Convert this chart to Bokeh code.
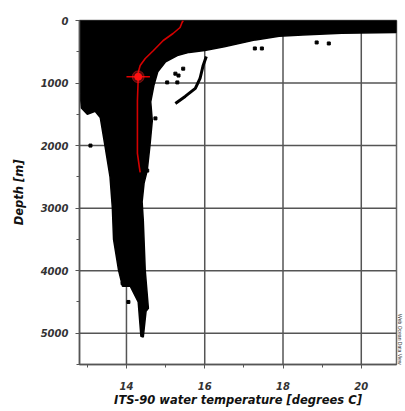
import math
from bokeh.plotting import figure
from bokeh.models import Range1d, FixedTicker, Title
from bokeh.embed import file_html
from bokeh.resources import INLINE

# Outline of the dense cloud of CTD samples (temperature, depth)
cloud_temp = [12.8, 20.9, 20.9, 19.5, 18.5, 17.9, 17.3, 16.5, 16.0, 15.6, 15.3, 15.0,
              14.8, 14.7, 14.62, 14.66, 14.6, 14.53, 14.45, 14.4, 14.43, 14.48, 14.56,
              14.5, 14.43, 14.37, 14.3, 14.1, 13.9, 13.8, 13.67, 13.64, 13.58, 13.45,
              13.33, 13.2, 13.0, 12.85, 12.8]
cloud_depth = [0, 0, 190, 205, 230, 250, 310, 420, 480, 510, 560, 660,
               820, 1040, 1300, 1600, 2000, 2400, 2600, 2900, 3200, 4000, 4600,
               4650, 5060, 5050, 4500, 4250, 4250, 4000, 3500, 3000, 2500, 2000,
               1550, 1450, 1500, 1400, 1060]

# Isolated profile segment (hook)
hook_temp = [15.25, 15.5, 15.76, 15.88, 15.96, 16.04]
hook_depth = [1326, 1214, 1086, 927, 719, 575]

# Scattered single samples
dot_temp = [17.28, 17.46, 18.86, 19.17, 15.04, 15.3, 14.74, 15.25, 15.33, 15.45,
            13.9, 14.05, 13.08, 14.53]
dot_depth = [447, 447, 351, 367, 990, 990, 1565, 850, 880, 770,
             4200, 4500, 2000, 2400]

# Highlighted station profile
red_temp = [15.45, 15.42, 15.37, 15.19, 14.94, 14.69, 14.48, 14.35, 14.3, 14.3,
            14.28, 14.28, 14.28, 14.33, 14.35]
red_depth = [0, 32, 112, 208, 320, 480, 607, 719, 831, 927,
             1278, 1805, 2125, 2348, 2428]

sel_temp = [14.3]
sel_depth = [900]
sel_err_temp = [14.0, 14.6]

x_ticks = [14, 16, 18, 20]
x_minor = [13, 15, 17, 19]
y_ticks = [0, 1000, 2000, 3000, 4000, 5000]
y_minor = [500, 1500, 2500, 3500, 4500, 5500]
x_lo, x_hi = 12.8, 20.9
y_lo, y_hi = 0, 5500

p = figure(frame_width=317, frame_height=344, output_backend="svg", toolbar_location=None,
           x_range=Range1d(x_lo, x_hi), y_range=Range1d(y_hi, y_lo),
           min_border_left=79, min_border_top=20, min_border_right=9, min_border_bottom=44)
p.background_fill_color = "white"
p.border_fill_color = "white"
p.outline_line_color = "#666666"
p.outline_line_width = 1.5
p.grid.visible = False

for ax in (p.xaxis[0], p.yaxis[0]):
    ax.axis_line_color = "#555555"
    ax.axis_line_width = 1.5
    ax.major_tick_line_color = "#555555"
    ax.minor_tick_line_color = "#555555"
    ax.major_tick_in = 0
    ax.major_tick_out = 4
    ax.minor_tick_in = 0
    ax.minor_tick_out = 3
    ax.major_label_text_font = "DejaVu Sans"
    ax.major_label_text_font_style = "bold italic"
    ax.major_label_text_font_size = "10px"
    ax.major_label_text_color = "#333333"
    ax.axis_label_text_font = "DejaVu Sans"
    ax.axis_label_text_font_style = "bold italic"
    ax.axis_label_text_font_size = "11.5px"
    ax.axis_label_text_color = "#111111"

p.xaxis.ticker = FixedTicker(ticks=x_ticks, minor_ticks=x_minor)
p.yaxis.ticker = FixedTicker(ticks=y_ticks, minor_ticks=y_minor)
p.xaxis.axis_label = "ITS-90 water temperature [degrees C]"
p.yaxis.axis_label = "Depth [m]"
p.xaxis.major_label_standoff = 13
p.xaxis.axis_label_standoff = 0
p.yaxis.major_label_standoff = 7
p.yaxis.axis_label_standoff = 12

# grid lines drawn as glyphs beneath the data
for xv in x_ticks:
    p.line([xv, xv], [y_lo, y_hi], line_color="#555555", line_width=1.5)
for yv in y_ticks:
    p.line([x_lo, x_hi], [yv, yv], line_color="#555555", line_width=1.5)

p.patch(cloud_temp, cloud_depth, fill_color="black", line_color="black", line_width=1.5)
p.line(hook_temp, hook_depth, line_color="black", line_width=3)
p.scatter(dot_temp, dot_depth, marker="square", size=3, color="black")

p.line(red_temp, red_depth, line_color="#d40000", line_width=1.6)
p.line(sel_err_temp, [sel_depth[0], sel_depth[0]], line_color="#e00000", line_width=1.6)
p.scatter(sel_temp, sel_depth, size=12, color="#ff2020", alpha=0.35)
p.scatter(sel_temp, sel_depth, size=7, color="#ff1010")

p.add_layout(Title(text="Web Ocean Data View", align="right", text_font_size="5px",
                   text_font_style="normal", text_color="#333333", standoff=0,
                   offset=0), "right")

open("out.html", "w").write(file_html(p, INLINE))
